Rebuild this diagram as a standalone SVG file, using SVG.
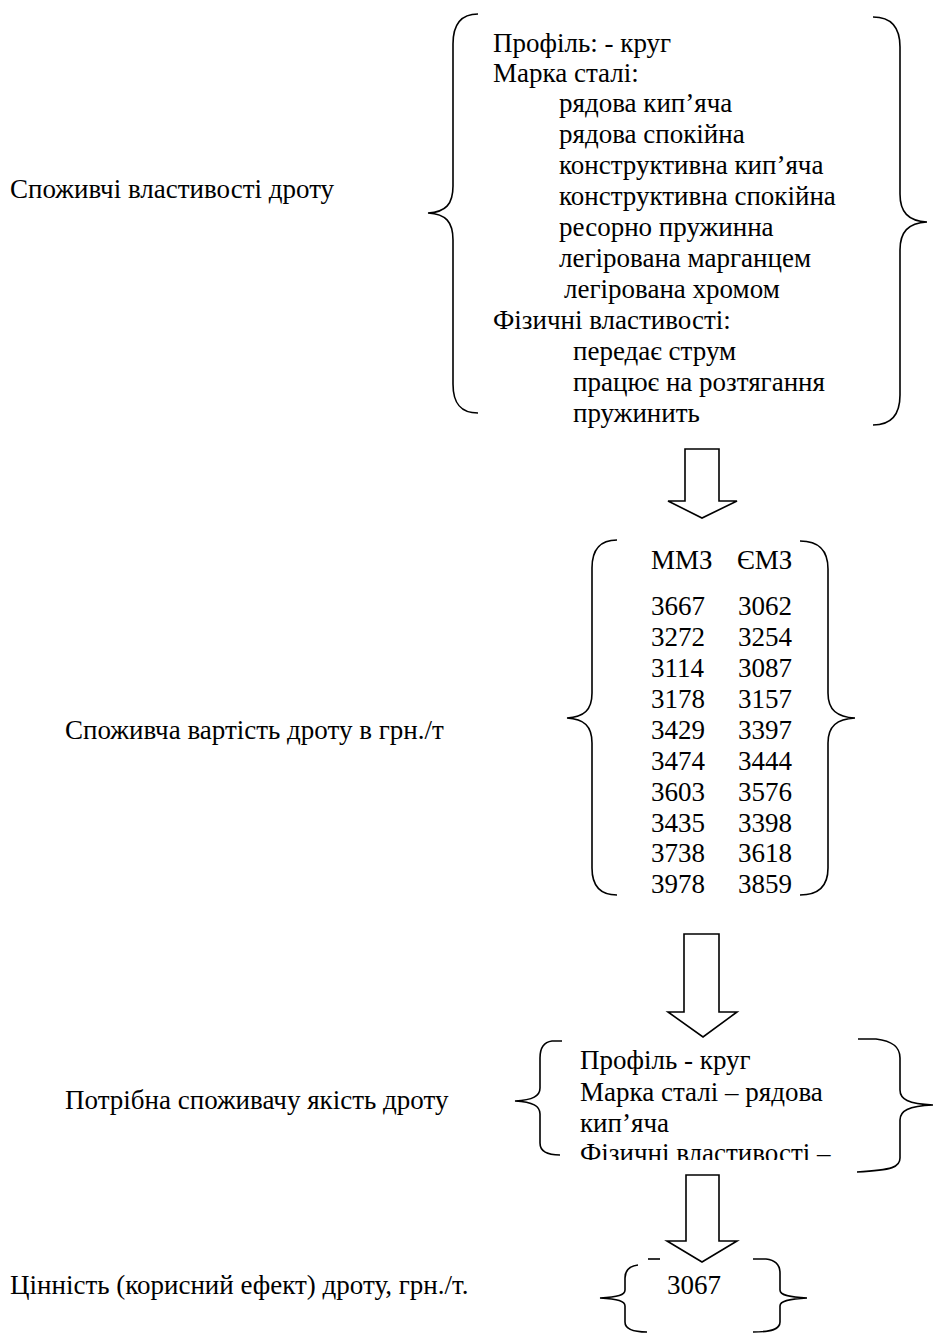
<svg xmlns="http://www.w3.org/2000/svg" width="933" height="1334" viewBox="0 0 933 1334">
<defs>
<style>
text{font-family:"Liberation Serif","Times New Roman",serif;font-size:27px;fill:#000}
.br{fill:none;stroke:#000;stroke-width:1.6}
.ar{fill:#fff;stroke:#000;stroke-width:1.6;stroke-linejoin:miter}
</style>
<clipPath id="c3"><rect x="560" y="1040" width="300" height="120"/></clipPath>
</defs>
<rect width="933" height="1334" fill="#fff"/>

<g id="label1"><text x="10" y="198">Споживчі властивості дроту</text></g>
<g id="label2"><text x="65" y="739">Споживча вартість дроту в грн./т</text></g>
<g id="label3"><text x="65" y="1109">Потрібна споживачу якість дроту</text></g>
<g id="label4"><text x="10" y="1294">Цінність (корисний ефект) дроту, грн./т.</text></g>

<g id="node1">
<path class="br" d="M478 14 C461 14 453 24 453 44 L453 186 C453 204 446 212 428 213 C446 214 453 222 453 240 L453 384 C453 404 461 413 478 413"/>
<path class="br" d="M873 17 C891 17 900 27 900 47 L900 194 C900 212 908 221 927 222 C908 223 900 232 900 250 L900 395 C900 415 891 425 873 425"/>
<text x="493" y="52">Профіль: - круг</text>
<text x="493" y="82">Марка сталі:</text>
<text x="559" y="112">рядова кип’яча</text>
<text x="559" y="143">рядова спокійна</text>
<text x="559" y="174">конструктивна кип’яча</text>
<text x="559" y="205">конструктивна спокійна</text>
<text x="559" y="236">ресорно пружинна</text>
<text x="559" y="267">легірована марганцем</text>
<text x="564" y="298">легірована хромом</text>
<text x="493" y="329">Фізичні властивості:</text>
<text x="573" y="360">передає струм</text>
<text x="573" y="391">працює на розтягання</text>
<text x="573" y="422">пружинить</text>
</g>

<g id="node2">
<path class="br" d="M617 540 C600 540 592 550 592 568 L592 693 C592 710 584 717 567 718 C584 719 592 726 592 743 L592 868 C592 886 600 895 617 895"/>
<path class="br" d="M800 541 C819 541 828 551 828 569 L828 693 C828 710 837 717 855 718 C837 719 828 726 828 743 L828 868 C828 886 819 895 800 895"/>
<text x="651" y="569">ММЗ</text>
<text x="737" y="569">ЄМЗ</text>
<text x="651" y="615">3667</text><text x="738" y="615">3062</text>
<text x="651" y="646">3272</text><text x="738" y="646">3254</text>
<text x="651" y="677">3114</text><text x="738" y="677">3087</text>
<text x="651" y="708">3178</text><text x="738" y="708">3157</text>
<text x="651" y="739">3429</text><text x="738" y="739">3397</text>
<text x="651" y="770">3474</text><text x="738" y="770">3444</text>
<text x="651" y="801">3603</text><text x="738" y="801">3576</text>
<text x="651" y="832">3435</text><text x="738" y="832">3398</text>
<text x="651" y="862">3738</text><text x="738" y="862">3618</text>
<text x="651" y="893">3978</text><text x="738" y="893">3859</text>
</g>

<g id="node3">
<path class="br" d="M562 1041 L552 1041 C544 1042 540 1048 540 1058 L540 1088 C540 1096 533 1100 515 1101 C533 1102 540 1106 540 1114 L540 1143 C540 1151 546 1155 560 1155"/>
<path class="br" d="M858 1039 L876 1039 C893 1041 900 1047 900 1058 L900 1090 C900 1099 908 1104 933 1105 C908 1106 900 1111 900 1120 L900 1158 C900 1167 893 1170 857 1172"/>
<g clip-path="url(#c3)">
<text x="580" y="1069">Профіль - круг</text>
<text x="580" y="1101">Марка сталі – рядова</text>
<text x="580" y="1132">кип’яча</text>
<text x="580" y="1162">Фізичні властивості –</text>
</g>
</g>

<g id="node4">
<path class="br" d="M648 1259 L660 1259"/>
<path class="br" d="M638 1265 C630 1266 625 1270 625 1278 L625 1290 C625 1295 618 1297 600 1298 C618 1299 625 1301 625 1306 L625 1322 C625 1329 632 1332 647 1332"/>
<path class="br" d="M753 1259 L766 1259 C775 1260 780 1265 780 1273 L780 1290 C780 1295 788 1297 807 1298 C788 1299 780 1301 780 1306 L780 1322 C780 1329 772 1332 753 1332"/>
<text x="667" y="1294">3067</text>
</g>

<g id="connectors">
<path class="ar" d="M685 449 L719 449 L719 501 L737 501 L702 518 L668 501 L685 501 Z"/>
<path class="ar" d="M684 934 L719 934 L719 1012 L737 1012 L703 1037 L668 1012 L684 1012 Z"/>
<path class="ar" d="M686 1175 L719 1175 L719 1241 L737 1241 L702 1262 L667 1241 L686 1241 Z"/>
</g>
</svg>
